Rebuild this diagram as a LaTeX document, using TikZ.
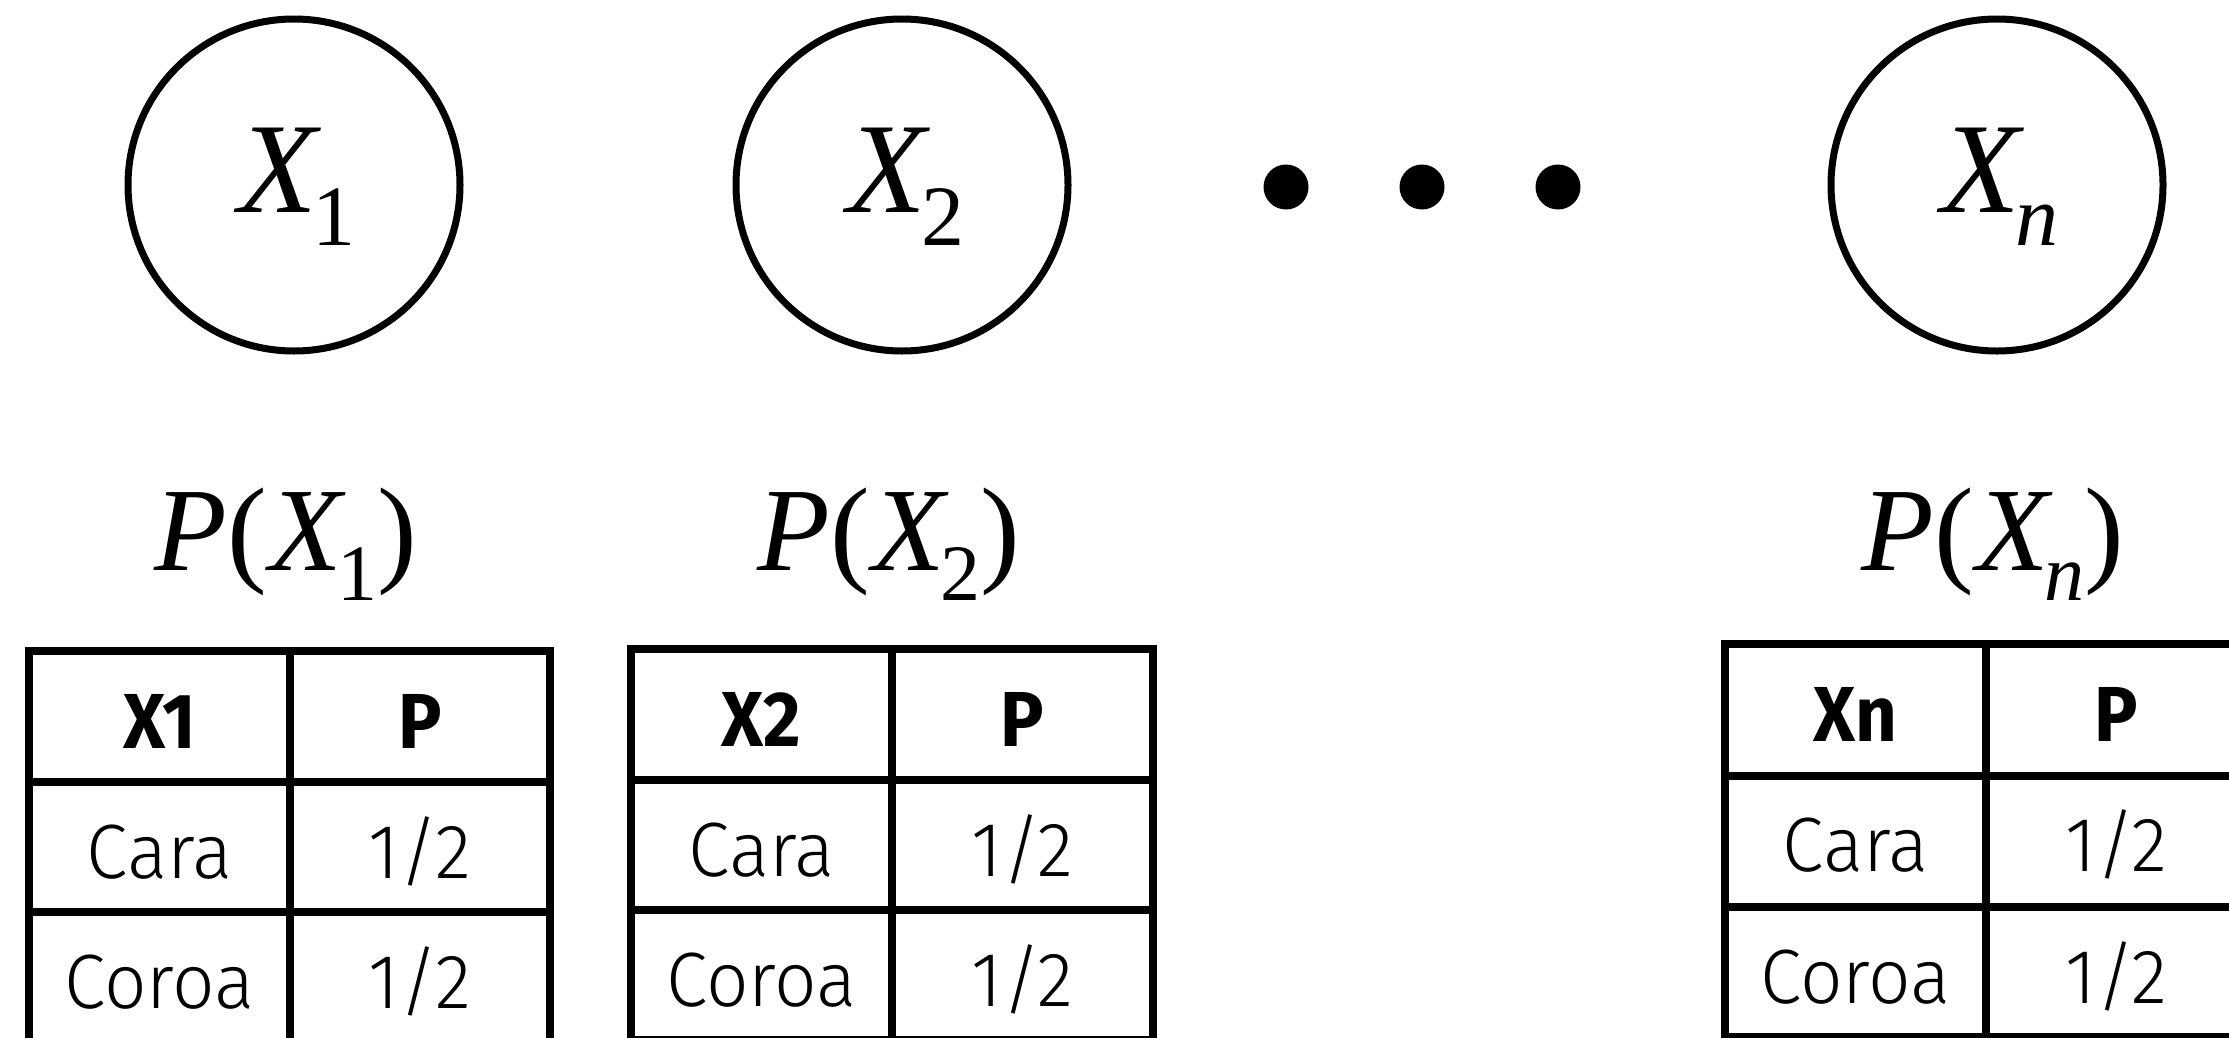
\documentclass[tikz,border=0pt]{standalone}
\usepackage{fontspec}
\setmainfont{Liberation Serif}
\newfontfamily\tlight{Fira Sans Light}[FakeStretch=0.97]
\newfontfamily\tbold{Fira Sans Bold}[FakeStretch=0.93]
\newcommand\cvar[1]{\fontsize{129}{129}\selectfont{\itshape X}\kern-5pt\raisebox{-33pt}{\fontsize{86}{86}\selectfont #1}}
\newcommand\pvar[1]{\fontsize{119}{119}\selectfont{\itshape P}(\kern2pt{\itshape X}\kern-4pt\raisebox{-30pt}{\fontsize{80}{80}\selectfont #1})}
\tikzset{
  rvcircle/.style={circle, draw, line width=7pt, minimum size=332pt, inner sep=0pt},
  dotnode/.style={circle, fill, minimum size=45pt, inner sep=0pt},
  lbl/.style={anchor=base, inner sep=0pt},
  grid/.style={line width=8pt},
  hdr/.style={anchor=base, inner sep=0pt, font=\tbold\fontsize{78}{78}\selectfont},
  cell/.style={anchor=base, inner sep=0pt, font=\tlight\fontsize{77}{77}\selectfont}
}
\begin{document}
\begin{tikzpicture}[x=1pt,y=-1pt]
\useasboundingbox[fill=white] (0,0) rectangle (2229,1037);
% variables
\node[rvcircle] (c1) at (294,185) {};
\node[rvcircle] (c2) at (902,185) {};
\node[rvcircle] (cn) at (1997,185) {};
\node[lbl] (x1) at (297,212) {\cvar{1}};
\node[lbl] (x2) at (906,212) {\cvar{2}};
\node[lbl] (xn) at (2000,212) {\cvar{\itshape n}};
\node[dotnode] (d1) at (1286,187) {};
\node[dotnode] (d2) at (1422,187) {};
\node[dotnode] (d3) at (1558,187) {};
% distribution labels
\node[lbl] (p1) at (286,570) {\pvar{1}};
\node[lbl] (p2) at (889,570) {\pvar{2}};
\node[lbl] (pn) at (1993,570) {\pvar{\itshape n}};
% table 1
\draw[grid] (29,651) rectangle (550,1042);
\draw[grid] (290,651) -- (290,1042);
\draw[grid] (29,782) -- (550,782);
\draw[grid] (29,912) -- (550,912);
\node[hdr] (a11) at (159.5,748) {X1};
\node[hdr] (a12) at (420,748) {P};
\node[cell] (a21) at (159.5,878) {Cara};
\node[cell] (a22) at (420,878) {1/2};
\node[cell] (a31) at (159.5,1008) {Coroa};
\node[cell] (a32) at (420,1008) {1/2};
% table 2
\draw[grid] (631,649) rectangle (1153,1040);
\draw[grid] (892,649) -- (892,1040);
\draw[grid] (631,780) -- (1153,780);
\draw[grid] (631,910) -- (1153,910);
\node[hdr] (b11) at (761.5,746) {X2};
\node[hdr] (b12) at (1022.5,746) {P};
\node[cell] (b21) at (761.5,876) {Cara};
\node[cell] (b22) at (1022.5,876) {1/2};
\node[cell] (b31) at (761.5,1006) {Coroa};
\node[cell] (b32) at (1022.5,1006) {1/2};
% table n
\draw[grid] (1725,644) rectangle (2247,1037);
\draw[grid] (1986,644) -- (1986,1037);
\draw[grid] (1725,776) -- (2247,776);
\draw[grid] (1725,907) -- (2247,907);
\node[hdr] (n11) at (1855.5,741) {Xn};
\node[hdr] (n12) at (2116.5,741) {P};
\node[cell] (n21) at (1855.5,871) {Cara};
\node[cell] (n22) at (2116.5,871) {1/2};
\node[cell] (n31) at (1855.5,1003) {Coroa};
\node[cell] (n32) at (2116.5,1003) {1/2};
\end{tikzpicture}
\end{document}
